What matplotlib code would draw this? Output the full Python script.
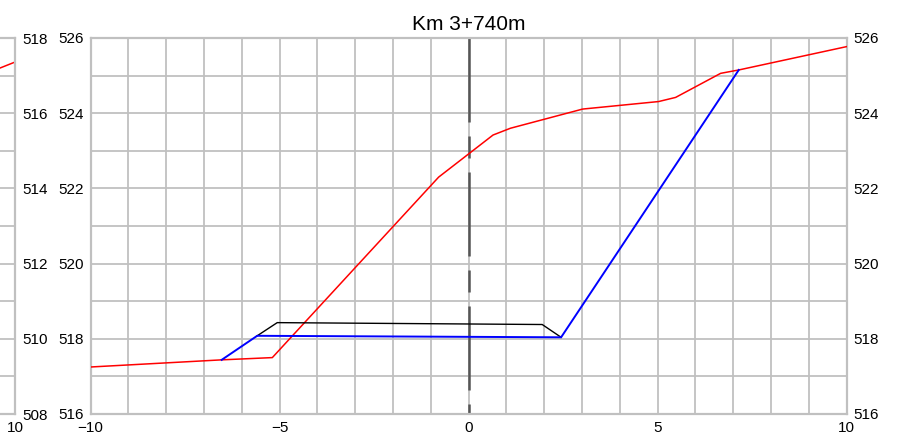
import matplotlib
matplotlib.use("Agg")
import matplotlib.pyplot as plt
from matplotlib.ticker import MultipleLocator

plt.rcParams['font.family'] = ['Liberation Sans', 'DejaVu Sans']

# ---- data ----
title = "Km 3+740m"
terrain_x = [-10, -6.53, -5.19, -0.79, 0.65, 1.11, 3.02, 5.03, 5.48, 6.67, 7.15, 10]
terrain_y = [517.25, 517.44, 517.50, 522.30, 523.42, 523.60, 524.11, 524.31, 524.42, 525.06, 525.15, 525.77]
design_x = [-6.53, -5.59, 2.45, 7.15]
design_y = [517.44, 518.08, 518.04, 525.15]
pavement_x = [-5.59, -5.06, 1.95, 2.45]
pavement_y = [518.08, 518.43, 518.38, 518.04]
prev_terrain_x = [9.5, 10]
prev_terrain_y = [517.16, 517.36]
main_xticks = [-10, -5, 0, 5, 10]
main_yticks = [516, 518, 520, 522, 524, 526]
prev_xticks = [10]
prev_yticks = [508, 510, 512, 514, 516, 518]

W, H = 922, 448
fig = plt.figure(figsize=(W / 100, H / 100), dpi=100)

def pos(l, r, t, b):
    return [l / W, 1 - b / H, (r - l) / W, (b - t) / H]

grid_c = '#c0c0c0'

def style(ax, xlim, ylim, xt, yt, left, right):
    ax.set_xlim(*xlim)
    ax.set_ylim(*ylim)
    ax.set_xticks(xt)
    ax.set_yticks(yt)
    ax.xaxis.set_minor_locator(MultipleLocator(1))
    ax.yaxis.set_minor_locator(MultipleLocator(1))
    ax.grid(which='both', color=grid_c, lw=1.3)
    ax.set_axisbelow(True)
    for s in ax.spines.values():
        s.set_color(grid_c)
        s.set_linewidth(1.6)
    ax.tick_params(which='both', length=0, labelsize=11, pad=5)
    ax.tick_params(axis='y', which='both', left=left, right=right,
                   labelleft=left, labelright=right)
    ax.set_facecolor('white')

axl = fig.add_axes(pos(15 - 756, 15, 38, 414))
style(axl, (-10, 10), (508, 518), prev_xticks, prev_yticks, False, True)
axl.plot(prev_terrain_x, prev_terrain_y, color='red', lw=1.1)

ax = fig.add_axes(pos(90.5, 846.5, 38, 414))
style(ax, (-10, 10), (516, 526), main_xticks, main_yticks, True, True)

ax.plot([0, 0], [526, 516], color='#555555', lw=1.8, dashes=(33.6, 5.6, 8.8, 5.6), zorder=2)
ax.plot(terrain_x, terrain_y, color='red', lw=1.1, zorder=3)
ax.plot(pavement_x, pavement_y, color='black', lw=1.0, zorder=3)
ax.plot(design_x, design_y, color='blue', lw=1.4, zorder=4)

ax.set_title(title, fontsize=15, pad=6)

fig.savefig('out.png', dpi=100)
